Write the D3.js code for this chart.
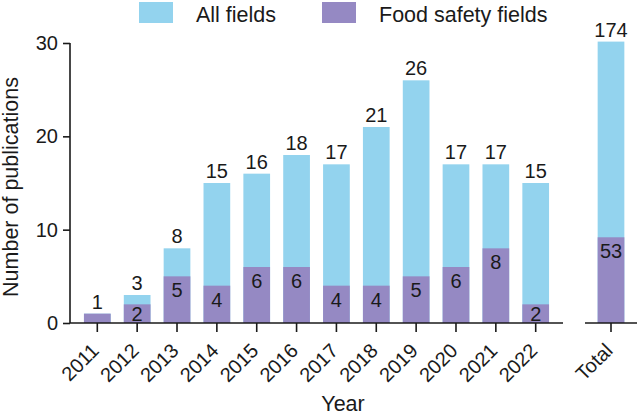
<!DOCTYPE html>
<html>
<head>
<meta charset="utf-8">
<script src="https://cdn.jsdelivr.net/npm/d3@7"></script>
<style>
  html, body { margin: 0; padding: 0; background: #fff; }
  svg { display: block; font-family: Arial, "Liberation Sans", sans-serif; }
</style>
</head>
<body>
<svg id="chart" width="640" height="415"></svg>
<script>
const years = ["2011","2012","2013","2014","2015","2016","2017","2018","2019","2020","2021","2022"];
const allFields = [1, 3, 8, 15, 16, 18, 17, 21, 26, 17, 17, 15];
const foodSafety = [1, 2, 5, 4, 6, 6, 4, 4, 5, 6, 8, 2];
const totalLabel = ["Total"];
const totalAll = [174];
const totalFood = [53];
const yTicks = [0, 10, 20, 30];
const seriesNames = ["All fields", "Food safety fields"];

const colBlue = "#93d3ee";
const colPurple = "#9589c3";
const fontSize = 20;
const titleSize = 21.5;

const svg = d3.select("#chart");
const y0 = 323, yTop = 43;

const y = d3.scaleLinear().domain([0, 30]).range([y0, yTop]);
const yTotal = d3.scaleLinear().domain([0, 174]).range([y0, y0 - (y(0) - y(30.15))]);
const x = d3.scaleBand().domain(years).range([70, 563]).paddingInner(0.33).paddingOuter(0.35);
const xT = d3.scaleBand().domain(totalLabel).range([585, 637]).paddingInner(0.33).paddingOuter(0.3175);

const data = years.map((yr, i) => ({ k: yr, a: allFields[i], f: foodSafety[i] }));
const tdata = totalLabel.map((k, i) => ({ k, a: totalAll[i], f: totalFood[i] }));

function drawBars(g, arr, xs, ys) {
  g.selectAll(null).data(arr).enter().append("rect")
    .attr("x", d => xs(d.k)).attr("width", xs.bandwidth())
    .attr("y", d => ys(d.a)).attr("height", d => ys(0) - ys(d.a))
    .attr("fill", colBlue);
  g.selectAll(null).data(arr).enter().append("rect")
    .attr("x", d => xs(d.k)).attr("width", xs.bandwidth())
    .attr("y", d => ys(d.f)).attr("height", d => ys(0) - ys(d.f))
    .attr("fill", colPurple);
  g.selectAll(null).data(arr).enter().append("text")
    .attr("x", d => xs(d.k) + xs.bandwidth() / 2)
    .attr("y", d => ys(d.a) - 5)
    .attr("text-anchor", "middle").attr("font-size", fontSize).attr("fill", "#1a1a1a")
    .text(d => d.a);
  g.selectAll(null).data(arr.filter(d => d.f < d.a)).enter().append("text")
    .attr("x", d => xs(d.k) + xs.bandwidth() / 2)
    .attr("y", d => Math.min(ys(d.f) + 21, (ys(d.f) + ys(0)) / 2 + 7))
    .attr("text-anchor", "middle").attr("font-size", fontSize).attr("fill", "#1a1a1a")
    .text(d => d.f);
}

drawBars(svg.append("g"), data, x, y);
drawBars(svg.append("g"), tdata, xT, yTotal);

// Y axis
const yAxis = svg.append("g").attr("transform", "translate(70,0)")
  .call(d3.axisLeft(y).tickValues(yTicks).tickSize(7).tickPadding(5));
yAxis.select(".domain").attr("d", `M0,${y0}V${yTop}`);

// X axes
function styleXAxis(g, scale) {
  g.select(".domain").attr("d", `M${scale.range()[0]},0H${scale.range()[1]}`);
  g.selectAll(".tick text")
    .attr("text-anchor", "end")
    .attr("transform", "translate(-7,19) rotate(-45)")
    .attr("dy", "0.7em").attr("y", 0).attr("x", 0);
}
const xAxis = svg.append("g").attr("transform", `translate(0,${y0})`)
  .call(d3.axisBottom(x).tickSize(9).tickSizeOuter(0));
styleXAxis(xAxis, x);
const xAxisT = svg.append("g").attr("transform", `translate(0,${y0})`)
  .call(d3.axisBottom(xT).tickSize(9).tickSizeOuter(0));
styleXAxis(xAxisT, xT);

svg.selectAll(".domain, .tick line").attr("stroke", "#1a1a1a").attr("stroke-width", 1.6);
svg.selectAll(".tick text").attr("font-size", fontSize).attr("fill", "#1a1a1a")
  .attr("font-family", "Arial, 'Liberation Sans', sans-serif");

// Axis titles
svg.append("text").attr("x", 343).attr("y", 411)
  .attr("text-anchor", "middle").attr("font-size", titleSize).attr("fill", "#1a1a1a").text("Year");
svg.append("text").attr("transform", "translate(18,187) rotate(-90)")
  .attr("text-anchor", "middle").attr("font-size", titleSize).attr("fill", "#1a1a1a").text("Number of publications");

// Legend
const legendX = [139, 322];
const legendCols = [colBlue, colPurple];
const lg = svg.append("g");
lg.selectAll(null).data(seriesNames).enter().append("rect")
  .attr("x", (d, i) => legendX[i]).attr("y", 2).attr("width", 34).attr("height", 21)
  .attr("fill", (d, i) => legendCols[i]);
lg.selectAll(null).data(seriesNames).enter().append("text")
  .attr("x", (d, i) => legendX[i] + 57).attr("y", 22)
  .attr("font-size", titleSize).attr("fill", "#1a1a1a").text(d => d);
</script>
</body>
</html>
